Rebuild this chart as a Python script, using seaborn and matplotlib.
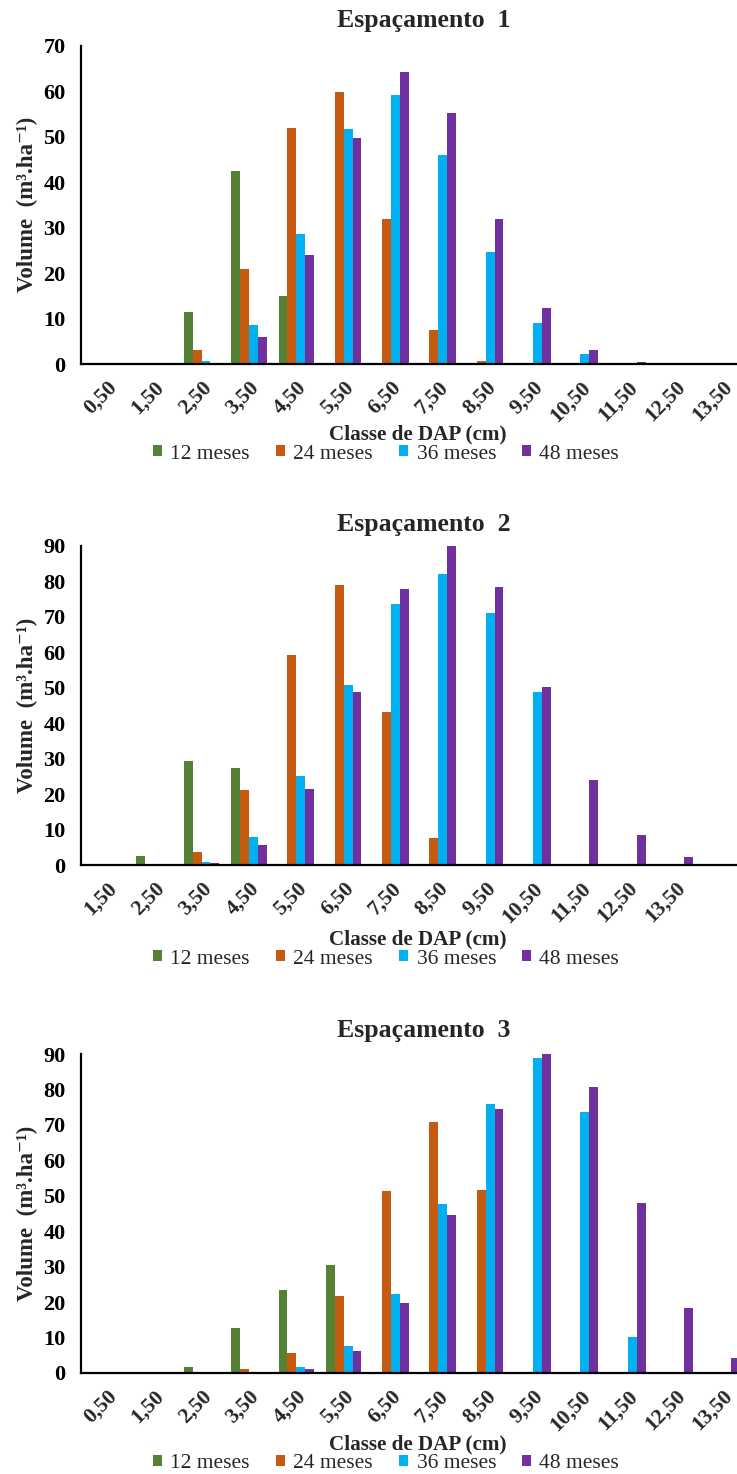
import numpy as np
import pandas as pd
import matplotlib
matplotlib.use("Agg")
import matplotlib.pyplot as plt
import matplotlib.transforms as mtransforms
import seaborn as sns
from matplotlib.patches import Patch

# ---------------- data ----------------
ages = ["12 meses", "24 meses", "36 meses", "48 meses"]
colors = ["#548235", "#C55A11", "#00B0F0", "#7030A0"]

labels_1 = ["0,50", "1,50", "2,50", "3,50", "4,50", "5,50", "6,50",
            "7,50", "8,50", "9,50", "10,50", "11,50", "12,50", "13,50"]
labels_2 = ["1,50", "2,50", "3,50", "4,50", "5,50", "6,50", "7,50",
            "8,50", "9,50", "10,50", "11,50", "12,50", "13,50", ""]
labels_3 = ["0,50", "1,50", "2,50", "3,50", "4,50", "5,50", "6,50",
            "7,50", "8,50", "9,50", "10,50", "11,50", "12,50", "13,50"]

# Espaçamento 1
e1_12 = [0, 0, 11.4, 42.5, 14.9, 0, 0, 0, 0, 0, 0, 0, 0, 0]
e1_24 = [0, 0, 3.0, 20.8, 52.0, 59.8, 31.8, 7.4, 0.6, 0, 0, 0, 0, 0]
e1_36 = [0, 0, 0.6, 8.5, 28.6, 51.7, 59.2, 45.9, 24.6, 9.1, 2.2, 0, 0, 0]
e1_48 = [0, 0, 0, 6.0, 24.0, 49.7, 64.3, 55.2, 31.8, 12.3, 3.1, 0.4, 0, 0]

# Espaçamento 2
e2_12 = [0, 2.4, 29.2, 27.3, 0, 0, 0, 0, 0, 0, 0, 0, 0, 0]
e2_24 = [0, 0, 3.6, 21.0, 59.3, 78.8, 43.0, 7.5, 0, 0, 0, 0, 0, 0]
e2_36 = [0, 0, 0.8, 7.8, 25.1, 50.6, 73.7, 82.0, 71.1, 48.7, 0, 0, 0, 0]
e2_48 = [0, 0, 0.5, 5.6, 21.3, 48.7, 77.7, 90.0, 78.4, 50.3, 23.9, 8.5, 2.3, 0]

# Espaçamento 3
e3_12 = [0, 0, 1.8, 12.6, 23.4, 30.5, 0, 0, 0, 0, 0, 0, 0, 0]
e3_24 = [0, 0, 0, 1.0, 5.6, 21.7, 51.3, 70.8, 51.6, 0, 0, 0, 0, 0]
e3_36 = [0, 0, 0, 0, 1.8, 7.6, 22.3, 47.7, 75.9, 88.8, 73.7, 10.2, 0, 0]
e3_48 = [0, 0, 0, 0, 1.2, 6.3, 19.8, 44.6, 74.5, 90.0, 80.6, 47.9, 18.3, 4.2]

titles = ["Espaçamento  1", "Espaçamento  2", "Espaçamento  3"]
xlabel = "Classe de DAP (cm)"
ylabel = "Volume  (m³.ha⁻¹)"

panels = [
    (labels_1, [e1_12, e1_24, e1_36, e1_48], 70),
    (labels_2, [e2_12, e2_24, e2_36, e2_48], 90),
    (labels_3, [e3_12, e3_24, e3_36, e3_48], 90),
]

# ---------------- style ----------------
sns.set_style("white")
plt.rcParams["font.family"] = ["Liberation Serif", "DejaVu Serif"]
plt.rcParams["axes.linewidth"] = 1.6

W, H = 737, 1474
fig = plt.figure(figsize=(W / 100, H / 100), dpi=100)

# pixel layout (top of axis, bottom of axis, title y, xlabel y, legend y)
layout = [
    (45.7, 364.0, 20, 434, 454),
    (545.7, 865.0, 525, 939, 959),
    (1054.0, 1373.0, 1030, 1444, 1464),
]
ax_left_px = 81
ax_width_px = 14 * 47.35
shift = mtransforms.ScaledTranslation(-4 / 100, 0, fig.dpi_scale_trans)

for (labels, series, ymax), (top, bot, ty, xly, lgy), title in zip(panels, layout, titles):
    ax = fig.add_axes([ax_left_px / W, 1 - bot / H, ax_width_px / W, (bot - top) / H])
    rows = []
    for age, vals in zip(ages, series):
        for lab, v in zip(labels, vals):
            rows.append({"classe": lab, "volume": v, "idade": age})
    df = pd.DataFrame(rows)
    sns.barplot(data=df, x="classe", y="volume", hue="idade", order=labels,
                hue_order=ages, palette=colors, saturation=1, width=0.75,
                errorbar=None, linewidth=0, ax=ax, legend=False)
    ax.set_xlim(-0.547, 13.453)
    ax.set_ylim(0, ymax)
    ax.set_yticks(np.arange(0, ymax + 1, 10))
    ax.set_yticklabels([str(int(t)) for t in np.arange(0, ymax + 1, 10)],
                       fontsize=16, fontweight="bold")
    ax.set_xticks(range(len(labels)))
    ax.set_xticklabels(labels, rotation=45, ha="right", va="top",
                       rotation_mode="anchor", fontsize=15.5, fontweight="bold")
    for lbl in ax.get_xticklabels():
        lbl.set_transform(lbl.get_transform() + shift)
    ax.tick_params(axis="y", direction="out", length=3, width=1.5, pad=8, colors="black")
    ax.tick_params(axis="x", length=0, pad=9.5)
    ax.set_xlabel("")
    ax.set_ylabel("")
    for s in ["top", "right"]:
        ax.spines[s].set_visible(False)
    for s in ["left", "bottom"]:
        ax.spines[s].set_color("black")
    ax.set_facecolor("none")

    fig.text(424 / W, 1 - ty / H, title, ha="center", va="center",
             fontsize=18.5, fontweight="bold")
    fig.text(418 / W, 1 - xly / H, xlabel, ha="center", va="center",
             fontsize=15.2, fontweight="bold")
    fig.text(27 / W, 1 - (top + bot) / 2 / H, ylabel, ha="center", va="center",
             rotation=90, fontsize=16.5, fontweight="bold")
    handles = [Patch(facecolor=c, edgecolor="none") for c in colors]
    fig.legend(handles, ages, loc="center", bbox_to_anchor=(386 / W, 1 - lgy / H),
               ncol=4, frameon=False, fontsize=15.5, handlelength=0.42,
               handleheight=0.42, handletextpad=0.4, columnspacing=1.2,
               borderpad=0, borderaxespad=0)

fig.savefig("out.png", dpi=100)
